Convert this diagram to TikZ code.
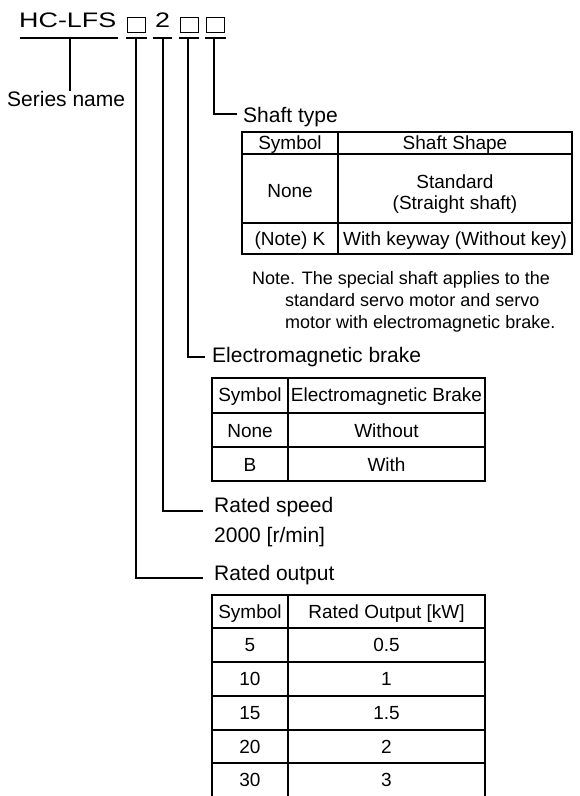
\documentclass[tikz,border=0pt]{standalone}
\usepackage{fontspec}
\setmainfont{Liberation Sans}
\usepackage{graphicx}
\begin{document}
\begin{tikzpicture}[x=1pt,y=-1pt,
  head/.style={inner sep=0pt,font=\fontsize{21}{25}\selectfont},
  lbl/.style={anchor=base west,inner sep=0pt,font=\fontsize{21}{25}\selectfont},
  cell/.style={anchor=base,inner sep=0pt,font=\fontsize{19}{23}\selectfont},
  notetext/.style={anchor=base west,inner sep=0pt,font=\fontsize{18}{22}\selectfont},
  conn/.style={line width=1.4pt},
  tab/.style={line width=1.6pt},
  slot/.style={draw,line width=0.9pt,minimum width=18pt,minimum height=14.5pt,inner sep=0pt}
]
\useasboundingbox (0,0) rectangle (580,796);

% header code
\node[head,anchor=base west] (hc) at (19,27.5) {\scalebox{1.28}[1]{HC-LFS}};
\node[slot] (b1) at (136,25) {};
\node[head,anchor=base] (d2) at (162.5,27.5) {\scalebox{1.28}[1]{2}};
\node[slot] (b3) at (189,25) {};
\node[slot] (b4) at (215,25) {};

% underlines
\draw[conn] (20,38) -- (118,38);
\draw[conn] (126,38) -- (147,38);
\draw[conn] (153,38) -- (172,38);
\draw[conn] (179,38) -- (199,38);
\draw[conn] (205,38) -- (226,38);

\coordinate (u0) at (70,38);
\coordinate (u1) at (136,38);
\coordinate (u2) at (163,38);
\coordinate (u3) at (188,38);
\coordinate (u4) at (214,38);

% labels
\node[lbl] (sername) at (7,106.5) {Series name};
\node[lbl] (shaft) at (243,122.5) {Shaft type};
\node[lbl] (brake) at (212,362.5) {Electromagnetic brake};
\node[lbl] (speed) at (214,512.5) {Rated speed};
\node[lbl] (speedval) at (214,542.5) {2000 [r/min]};
\node[lbl] (output) at (214,580.5) {Rated output};

\coordinate (e4) at (237,114);
\coordinate (e3) at (205,357);
\coordinate (e2) at (203,511);
\coordinate (e1) at (203,578);

% connectors
\draw[conn] (u0) -- (u0 |- sername.north);
\draw[conn] (u4) |- (e4);
\draw[conn] (u3) |- (e3);
\draw[conn] (u2) |- (e2);
\draw[conn] (u1) |- (e1);

% shaft table
\draw[tab] (242,132) rectangle (572,254);
\draw[tab] (242,154) -- (572,154);
\draw[tab] (242,223) -- (572,223);
\draw[tab] (338,132) -- (338,254);
\node[cell] (s11) at (290,149.8) {Symbol};
\node[cell] (s12) at (455,149.8) {Shaft Shape};
\node[cell] (s21) at (290,197) {None};
\node[cell] (s22a) at (455,188.8) {Standard};
\node[cell] (s22b) at (455,209.8) {(Straight shaft)};
\node[cell] (s31) at (290,245) {(Note) K};
\node[cell] (s32) at (455,245) {With keyway (Without key)};

% note
\node[notetext] (n1) at (252,284.5) {Note. The special shaft applies to the};
\node[notetext] (n2) at (285,306.5) {standard servo motor and servo};
\node[notetext] (n3) at (285,328.5) {motor with electromagnetic brake.};

% brake table
\draw[tab] (212,378) rectangle (485,481);
\draw[tab] (212,413) -- (485,413);
\draw[tab] (212,447) -- (485,447);
\draw[tab] (288,378) -- (288,481);
\node[cell] (k11) at (250,401.8) {Symbol};
\node[cell] (k12) at (386.5,401.8) {Electromagnetic Brake};
\node[cell] (k21) at (250,437) {None};
\node[cell] (k22) at (386.5,437) {Without};
\node[cell] (k31) at (250,471) {B};
\node[cell] (k32) at (386.5,471) {With};

% output table
\draw[tab] (212,796) -- (212,595) -- (485,595) -- (485,796);
\draw[tab] (288,595) -- (288,796);
\foreach \yy in {628,662,696,730,763} {\draw[tab] (212,\yy) -- (485,\yy);}
\node[cell] (o11) at (250,618.3) {Symbol};
\node[cell] (o12) at (386.5,618.3) {Rated Output [kW]};
\node[cell] (o21) at (250,651.8) {5};
\node[cell] (o22) at (386.5,651.8) {0.5};
\node[cell] (o31) at (250,685.8) {10};
\node[cell] (o32) at (386.5,685.8) {1};
\node[cell] (o41) at (250,719.8) {15};
\node[cell] (o42) at (386.5,719.8) {1.5};
\node[cell] (o51) at (250,753.3) {20};
\node[cell] (o52) at (386.5,753.3) {2};
\node[cell] (o61) at (250,786.8) {30};
\node[cell] (o62) at (386.5,786.8) {3};
\end{tikzpicture}
\end{document}
